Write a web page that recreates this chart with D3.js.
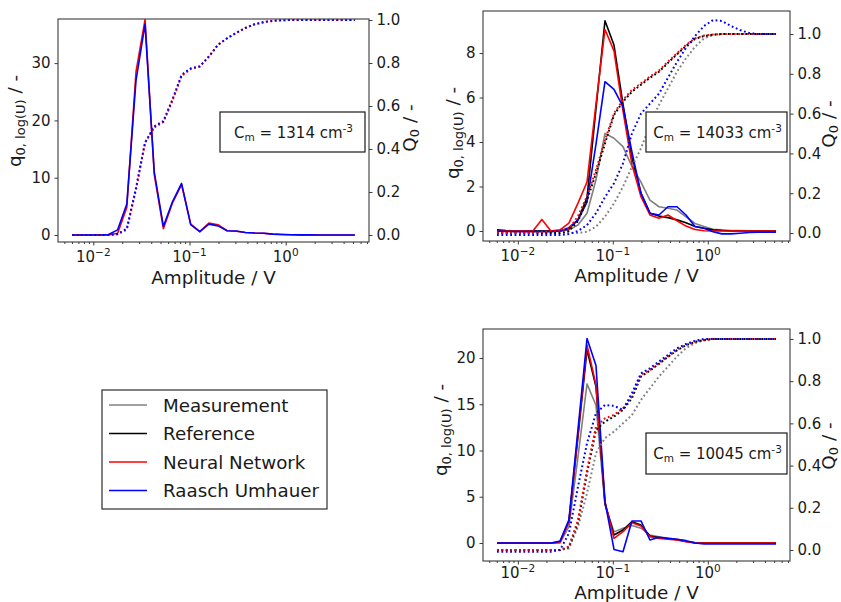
<!DOCTYPE html>
<html><head><meta charset="utf-8">
<script src="https://cdn.jsdelivr.net/npm/d3@7"></script>
<style>
body{margin:0;background:#fff}
svg{display:block}
text{font-family:"DejaVu Sans",sans-serif;fill:#1a1a1a}
</style>
</head><body>
<svg id="c" width="841" height="602"></svg>
<script>
// ---------- DATA ----------
const amplitude = [0.00603, 0.00749, 0.00932, 0.0116, 0.0144, 0.0179, 0.0223, 0.0278, 0.0345, 0.0430,
  0.0535, 0.0665, 0.0827, 0.1029, 0.128, 0.159, 0.198, 0.246, 0.306, 0.381,
  0.474, 0.590, 0.734, 0.913, 1.136, 1.413, 1.757, 2.186, 2.720, 3.383, 4.207, 5.235];

const seriesNames = ["Measurement", "Reference", "Neural Network", "Raasch Umhauer"];
const concentrations = ["1314", "14033", "10045"];

const xTickValues = [0.01, 0.1, 1];
const xTickExponents = ["\u22122", "\u22121", "0"];
const qTicksA = [0, 10, 20, 30];
const qTicksB = [0, 2, 4, 6, 8];
const qTicksC = [0, 5, 10, 15, 20];
const QTicks = [0, 0.2, 0.4, 0.6, 0.8, 1.0];

// Panel A (Cm = 1314)
const qNN_A = [0,0,0,0,0,0.3,4.8,28.5,37.6,10.6,1.1,5.6,8.8,1.9,0.6,2.1,1.8,0.75,0.65,0.45,0.35,0.3,0.15,0.1,0.05,0.03,0.02,0.01,0,0,0,0];
const qRU_A = [0,0,0,0,0.1,0.9,5.4,27.0,36.8,11.0,1.5,5.8,9.0,1.8,0.6,1.9,1.6,0.75,0.7,0.45,0.35,0.3,0.15,0.1,0.05,0.03,0.02,0.01,0,0,0,0];
const QNN_A = [0,0,0,0,0,0.003,0.025,0.21,0.43,0.5,0.525,0.625,0.74,0.772,0.783,0.83,0.885,0.915,0.94,0.963,0.98,0.99,0.996,0.999,1,1,1,1,1,1,1,1];
const QRU_A = [0,0,0,0,0,0.005,0.03,0.22,0.43,0.505,0.53,0.63,0.745,0.775,0.785,0.83,0.885,0.915,0.94,0.963,0.98,0.99,0.996,0.999,1,1,1,1,1,1,1,1];

// Panel B (Cm = 14033)
const qMeas_B = [0,0,0,0,0,0,0,0,0.05,0.27,0.8,2.3,4.39,4.17,3.79,2.9,2.2,1.39,1.09,1.02,0.94,0.64,0.34,0.2,0.08,0.05,0.02,0.02,0.01,0.01,0,0];
const qRef_B = [0.05,0.02,0,0,0,0,0,0,0.1,0.5,1.5,5.5,9.45,8.36,5.7,3.3,1.7,0.8,0.67,0.6,0.5,0.37,0.2,0.12,0.05,0.02,0,0,0,0,0,0];
const qNN_B = [0,0,0,0,0,0.52,0,0.05,0.35,1.25,2.2,5.7,9.06,8.1,5.4,3.0,1.54,0.72,0.57,0.72,0.46,0.22,0.07,0.01,0,0,0,0,0,0,0,0];
const qRU_B = [0,-0.02,-0.03,-0.03,-0.03,-0.03,-0.03,0,0.15,0.5,1.3,3.9,6.71,6.37,5.59,3.56,1.69,0.8,0.72,1.09,1.09,0.72,0.2,0.12,-0.03,-0.13,-0.13,-0.1,-0.07,-0.05,-0.05,-0.05];
const QMeas_B = [0,0,0,0,0,0,0,0,0,0,0.007,0.032,0.082,0.149,0.233,0.333,0.425,0.543,0.643,0.727,0.811,0.878,0.936,0.978,0.995,1,1,1,1,1,1,1];
const QRef_B = [0,0,0,0,0,0,0,0,0.01,0.06,0.166,0.3,0.45,0.593,0.66,0.71,0.745,0.78,0.81,0.855,0.898,0.94,0.975,0.99,0.997,1,1,1,1,1,1,1];
const QNN_B = [0,0,0,0,0,0.005,0.01,0.012,0.02,0.085,0.185,0.317,0.467,0.601,0.669,0.719,0.752,0.786,0.816,0.861,0.903,0.945,0.978,0.992,0.997,1,1,1,1,1,1,1];
const QRU_B = [-0.01,-0.01,-0.01,-0.01,-0.01,-0.01,-0.01,-0.01,-0.005,0.01,0.04,0.1,0.18,0.25,0.35,0.5,0.6,0.65,0.7,0.78,0.86,0.93,0.99,1.04,1.07,1.065,1.04,1.02,1.005,1,1,1];

// Panel C (Cm = 10045)
const qMeas_C = [0,0,0,0,0,0,0,0,1.77,9.3,17.2,14.9,4.1,1.2,1.6,1.9,1.6,0.86,0.68,0.5,0.4,0.2,0.04,0,0,0,0,0,0,0,0,0];
const qRef_C = [0,0,0,0,0,0,0,0.1,2.3,11.5,20.9,16.9,4.3,0.86,1.4,2.3,1.95,0.75,0.6,0.45,0.35,0.15,0.02,0,0,0,0,0,0,0,0,0];
const qNN_C = [0,0,0,0,0,0,0,0.05,2.3,11.8,21.4,17.1,4.4,0.5,1.22,2.2,1.84,0.68,0.5,0.4,0.32,0.14,0,0,0,0,0,0,0,0,0,0];
const qRU_C = [0,0,0,0,0,0,0,0.2,2.5,12.3,22.1,19.2,4.5,-0.7,-0.94,2.38,2.38,0.32,0.61,0.5,0.4,0.25,0,-0.1,-0.1,-0.1,-0.1,-0.1,-0.1,-0.1,-0.1,-0.1];
const QMeas_C = [0,0,0,0,0,0,0,0,0.008,0.11,0.269,0.459,0.53,0.561,0.6,0.64,0.711,0.766,0.822,0.869,0.917,0.956,0.98,0.992,1,1,1,1,1,1,1,1];
const QRef_C = [0,0,0,0,0,0,0,0,0.014,0.13,0.363,0.569,0.608,0.632,0.664,0.719,0.822,0.85,0.882,0.915,0.946,0.97,0.986,0.995,1,1,1,1,1,1,1,1];
const QNN_C = [0,0,0,0,0,0,0,0,0.016,0.142,0.379,0.585,0.624,0.64,0.672,0.727,0.83,0.853,0.885,0.917,0.948,0.972,0.987,0.995,1,1,1,1,1,1,1,1];
const QRU_C = [-0.008,-0.008,-0.008,-0.008,-0.008,-0.008,-0.008,0,0.079,0.3,0.506,0.648,0.687,0.683,0.664,0.743,0.837,0.861,0.893,0.924,0.956,0.976,0.991,1,1,1,1,1,1,1,1,1];

// ---------- STYLE / LAYOUT ----------
const colors = {"Measurement":"#808080","Reference":"#000000","Neural Network":"#ff0000","Raasch Umhauer":"#0000ff"};
const xDomain = [Math.pow(10,-2.367), Math.pow(10,0.866)];
const frameColor = "#3a3a3a";

const panels = [
  {l:58,t:19,r:369,b:242, qDom:[-1.22,37.7], QDom:[-0.0326,1.0047], qTicks:qTicksA,
   qLabel:[21,121], QLabel:[416,128], xTickY:262, xTitleY:284, note:[220,112,365,152], cm:concentrations[0],
   series:[{name:"Neural Network", q:qNN_A, Q:QNN_A},{name:"Raasch Umhauer", q:qRU_A, Q:QRU_A}]},
  {l:483,t:11,r:790,b:241, qDom:[-0.45,9.89], QDom:[-0.040,1.1156], qTicks:qTicksB,
   qLabel:[459,133], QLabel:[835,124], xTickY:261, xTitleY:282, note:[646,112,787,152], cm:concentrations[1],
   series:[{name:"Measurement", q:qMeas_B, Q:QMeas_B},{name:"Reference", q:qRef_B, Q:QRef_B},
           {name:"Neural Network", q:qNN_B, Q:QNN_B},{name:"Raasch Umhauer", q:qRU_B, Q:QRU_B}]},
  {l:483,t:329,r:790,b:561, qDom:[-1.95,23.14], QDom:[-0.052,1.047], qTicks:qTicksC,
   qLabel:[447,430], QLabel:[835,446], xTickY:578, xTitleY:599, note:[646,433,787,474], cm:concentrations[2],
   series:[{name:"Measurement", q:qMeas_C, Q:QMeas_C},{name:"Reference", q:qRef_C, Q:QRef_C},
           {name:"Neural Network", q:qNN_C, Q:QNN_C},{name:"Raasch Umhauer", q:qRU_C, Q:QRU_C}]}
];

const svg = d3.select("#c");

panels.forEach((p, pi) => {
  const x = d3.scaleLog().domain(xDomain).range([p.l, p.r]);
  const yq = d3.scaleLinear().domain(p.qDom).range([p.b, p.t]);
  const yQ = d3.scaleLinear().domain(p.QDom).range([p.b, p.t]);
  const g = svg.append("g");

  const clipId = "clip" + pi;
  svg.append("clipPath").attr("id", clipId).append("rect")
    .attr("x", p.l).attr("y", p.t).attr("width", p.r - p.l).attr("height", p.b - p.t);

  const plot = g.append("g").attr("clip-path", `url(#${clipId})`);
  const lineQ = d3.line().x((d,i) => x(amplitude[i])).y(d => yq(d));
  const lineC = d3.line().x((d,i) => x(amplitude[i])).y(d => yQ(d));

  p.series.forEach(s => {
    plot.append("path").datum(s.q).attr("d", lineQ)
      .attr("fill","none").attr("stroke", colors[s.name]).attr("stroke-width",1.6)
      .attr("stroke-linejoin","round");
  });
  p.series.forEach(s => {
    plot.append("path").datum(s.Q).attr("d", lineC)
      .attr("fill","none").attr("stroke", colors[s.name]).attr("stroke-width",2)
      .attr("stroke-dasharray","1.8,2.6");
  });

  // frame
  g.append("rect").attr("x", p.l).attr("y", p.t).attr("width", p.r - p.l).attr("height", p.b - p.t)
    .attr("fill","none").attr("stroke", frameColor).attr("stroke-width",1.1);

  const ax = g.append("g").attr("transform", `translate(${p.l},0)`)
    .call(d3.axisLeft(yq).tickValues(p.qTicks).tickSize(3.5).tickPadding(4).tickFormat(d3.format("d")));
  const axR = g.append("g").attr("transform", `translate(${p.r},0)`)
    .call(d3.axisRight(yQ).tickValues(QTicks).tickSize(3.5).tickPadding(4).tickFormat(d3.format(".1f")));
  const axB = g.append("g").attr("transform", `translate(0,${p.b})`)
    .call(d3.axisBottom(x).tickValues(xTickValues).tickSize(3.5).tickFormat(() => ""));
  const minor = [];
  for (let e = -3; e <= 0; e++) for (let m = 2; m <= 9; m++) {
    const v = m * Math.pow(10, e);
    if (v > xDomain[0] && v < xDomain[1]) minor.push(v);
  }
  const axM = g.append("g").attr("transform", `translate(0,${p.b})`)
    .call(d3.axisBottom(x).tickValues(minor).tickSize(2).tickFormat(() => ""));

  [ax, axR, axB, axM].forEach(a => {
    a.select(".domain").remove();
    a.selectAll("line").attr("stroke", frameColor).attr("stroke-width",1);
    a.selectAll("text").attr("font-family","DejaVu Sans").attr("font-size",15).attr("fill","#1a1a1a");
  });

  xTickValues.forEach((v, i) => {
    const t = g.append("text").attr("x", x(v)).attr("y", p.xTickY)
      .attr("text-anchor","middle").attr("font-size",15);
    t.append("tspan").text("10");
    t.append("tspan").attr("font-size",10.5).attr("dy",-6).text(xTickExponents[i]);
  });

  g.append("text").attr("x", (p.l + p.r) / 2).attr("y", p.xTitleY)
    .attr("text-anchor","middle").attr("font-size",18.4).text("Amplitude / V");

  const tl = g.append("text").attr("transform", `translate(${p.qLabel[0]},${p.qLabel[1]}) rotate(-90)`)
    .attr("text-anchor","middle").attr("font-size",18.4);
  tl.append("tspan").text("q");
  tl.append("tspan").attr("font-size",13).attr("dy",4).text("0, log(U)");
  tl.append("tspan").attr("dy",-4).text(" / -");

  const tr = g.append("text").attr("transform", `translate(${p.QLabel[0]},${p.QLabel[1]}) rotate(-90)`)
    .attr("text-anchor","middle").attr("font-size",18.4);
  tr.append("tspan").text("Q");
  tr.append("tspan").attr("font-size",13).attr("dy",3).text("0");
  tr.append("tspan").attr("dy",-3).text(" / -");

  const [nl, nt, nr, nb] = p.note;
  g.append("rect").attr("x", nl).attr("y", nt).attr("width", nr - nl).attr("height", nb - nt)
    .attr("fill","#ffffff").attr("stroke","#1a1a1a").attr("stroke-width",1.2);
  const nt2 = g.append("text").attr("x", (nl + nr) / 2 + 1).attr("y", (nt + nb) / 2 + 5.5)
    .attr("text-anchor","middle").attr("font-size",15);
  nt2.append("tspan").text("C");
  nt2.append("tspan").attr("font-size",10.5).attr("dy",3).text("m");
  nt2.append("tspan").attr("dy",-3).text(" = " + p.cm + " cm");
  nt2.append("tspan").attr("font-size",10.5).attr("dy",-6).text("-3");
});

// legend
const lg = svg.append("g");
lg.append("rect").attr("x",102).attr("y",390).attr("width",225).attr("height",119)
  .attr("fill","#fff").attr("stroke","#1a1a1a").attr("stroke-width",1.1);
seriesNames.forEach((n, i) => {
  const y = 405 + i * 28.5;
  lg.append("line").attr("x1",109).attr("x2",147).attr("y1",y).attr("y2",y)
    .attr("stroke", colors[n]).attr("stroke-width",1.6);
  lg.append("text").attr("x",163).attr("y",y + 6.5).attr("font-size",18.3).text(n);
});
</script>
</body></html>
